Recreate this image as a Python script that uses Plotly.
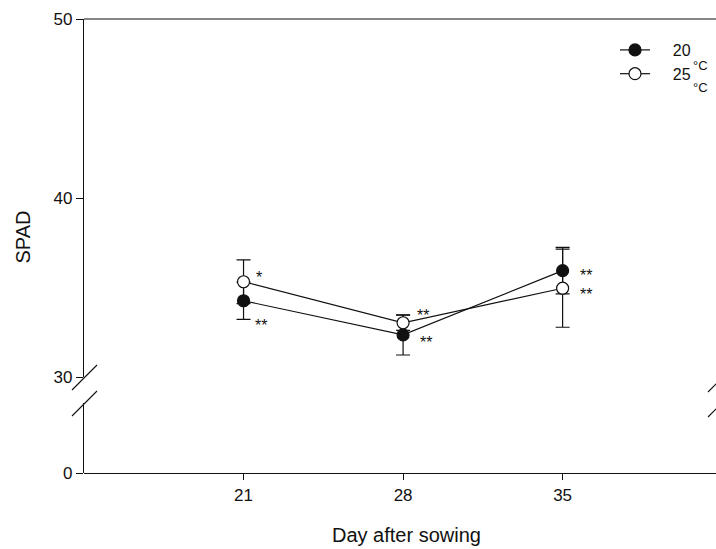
import plotly.graph_objects as go

# ---------------- data ----------------
days = [21, 28, 35]
spad_20 = [34.26, 32.35, 35.94]
err_20 = [1.04, 1.12, 1.30]
spad_25 = [35.32, 33.03, 34.96]
err_25 = [1.22, 0.43, 2.18]
sig_20 = ["**", "**", "**"]
sig_25 = ["*", "**", "**"]
x_ticks = [21, 28, 35]
y_upper_ticks = [30, 40, 50]
y_lower_ticks = [0]
series_names = ["20", "25"]

FONT = "Arial, Liberation Sans, sans-serif"
INK = "#111111"

W, H = 716, 549
L, R, T, B = 84, 0, 19, 76
PW, PH = W - L - R, H - T - B


def px_x(p):
    return (p - L) / PW


def px_y(p):
    return (H - B - p) / PH


fig = go.Figure()

# empty trace so the lower (0) segment of the broken axis is drawn
fig.add_trace(go.Scatter(x=[], y=[], xaxis="x", yaxis="y", showlegend=False,
                         hoverinfo="skip"))

fig.add_trace(go.Scatter(
    x=days, y=spad_20, xaxis="x", yaxis="y2",
    name="\u00a0\u00a0\u00a0\u00a0" + series_names[0],
    mode="lines+markers",
    line=dict(color=INK, width=1.2),
    marker=dict(symbol="circle", size=12, color=INK, line=dict(color=INK, width=1.2)),
    error_y=dict(type="data", array=err_20, visible=True, color=INK, thickness=1.2, width=7),
))
fig.add_trace(go.Scatter(
    x=days, y=spad_25, xaxis="x", yaxis="y2",
    name="\u00a0\u00a0\u00a0\u00a0" + series_names[1],
    mode="lines+markers",
    line=dict(color=INK, width=1.2),
    marker=dict(symbol="circle", size=12, color="white", line=dict(color=INK, width=1.2)),
    error_y=dict(type="data", array=err_25, visible=True, color=INK, thickness=1.2, width=7),
))

annotations = []
# significance marks (offsets in pixels)
off_20 = [(17, -21), (23, -4), (23, -1)]
off_25 = [(15, 8), (20, 11), (23, -2)]
for d, v, s, (dx, dy) in zip(days, spad_20, sig_20, off_20):
    annotations.append(dict(x=d, y=v, xref="x", yref="y2", text=s, showarrow=False,
                            xanchor="center", yanchor="middle", xshift=dx, yshift=dy - 4,
                            font=dict(family=FONT, size=16, color=INK)))
for d, v, s, (dx, dy) in zip(days, spad_25, sig_25, off_25):
    annotations.append(dict(x=d, y=v, xref="x", yref="y2", text=s, showarrow=False,
                            xanchor="center", yanchor="middle", xshift=dx, yshift=dy - 4,
                            font=dict(family=FONT, size=16, color=INK)))

# axis titles
annotations.append(dict(x=px_x(22.5), y=px_y(237), xref="paper", yref="paper", text="SPAD",
                        textangle=-90, showarrow=False, xanchor="center", yanchor="middle",
                        font=dict(family=FONT, size=20, color=INK)))
annotations.append(dict(x=px_x(406.7), y=px_y(535), xref="paper", yref="paper",
                        text="Day after sowing", showarrow=False, xanchor="center",
                        yanchor="middle", font=dict(family=FONT, size=20, color=INK)))
# degree marks beside the legend
for yy in (65, 87):
    annotations.append(dict(x=px_x(700), y=px_y(yy), xref="paper", yref="paper", text="°C",
                            showarrow=False, xanchor="center", yanchor="middle",
                            font=dict(family=FONT, size=13, color=INK)))

shapes = []
# top frame line
shapes.append(dict(type="line", xref="paper", yref="paper", x0=0, x1=1, y0=1, y1=1,
                   line=dict(color=INK, width=1.2)))
# axis break marks
for (x0, y0, x1, y1) in [(72, 390, 97, 365), (72, 416, 97, 391),
                         (708, 392, 733, 367), (708, 417, 733, 392)]:
    shapes.append(dict(type="line", xref="paper", yref="paper",
                       x0=px_x(x0), y0=px_y(y0), x1=px_x(x1), y1=px_y(y1),
                       line=dict(color=INK, width=1.1)))

axis_common = dict(showline=True, linecolor=INK, linewidth=1.2, ticks="outside",
                   tickcolor=INK, tickwidth=1.2, showgrid=False, zeroline=False,
                   tickfont=dict(family=FONT, size=17, color=INK))

fig.update_layout(
    width=W, height=H,
    margin=dict(l=L, r=R, t=T, b=B),
    paper_bgcolor="white", plot_bgcolor="white",
    xaxis=dict(range=[14, 41.73], tickvals=x_ticks, ticklen=6, anchor="free", position=0,
               domain=[0, 1], **axis_common),
    yaxis=dict(range=[0, 5], domain=[0, px_y(403)], tickvals=y_lower_ticks, ticklen=7,
               anchor="x", **axis_common),
    yaxis2=dict(range=[30, 50], domain=[px_y(377), 1], tickvals=y_upper_ticks, ticklen=7,
                anchor="x", **axis_common),
    showlegend=True,
    legend=dict(x=px_x(615), y=px_y(33), xanchor="left", yanchor="top",
                bgcolor="rgba(0,0,0,0)", borderwidth=0, tracegroupgap=0,
                font=dict(family=FONT, size=16, color=INK)),
    annotations=annotations,
    shapes=shapes,
)

fig.write_html("out.html")
